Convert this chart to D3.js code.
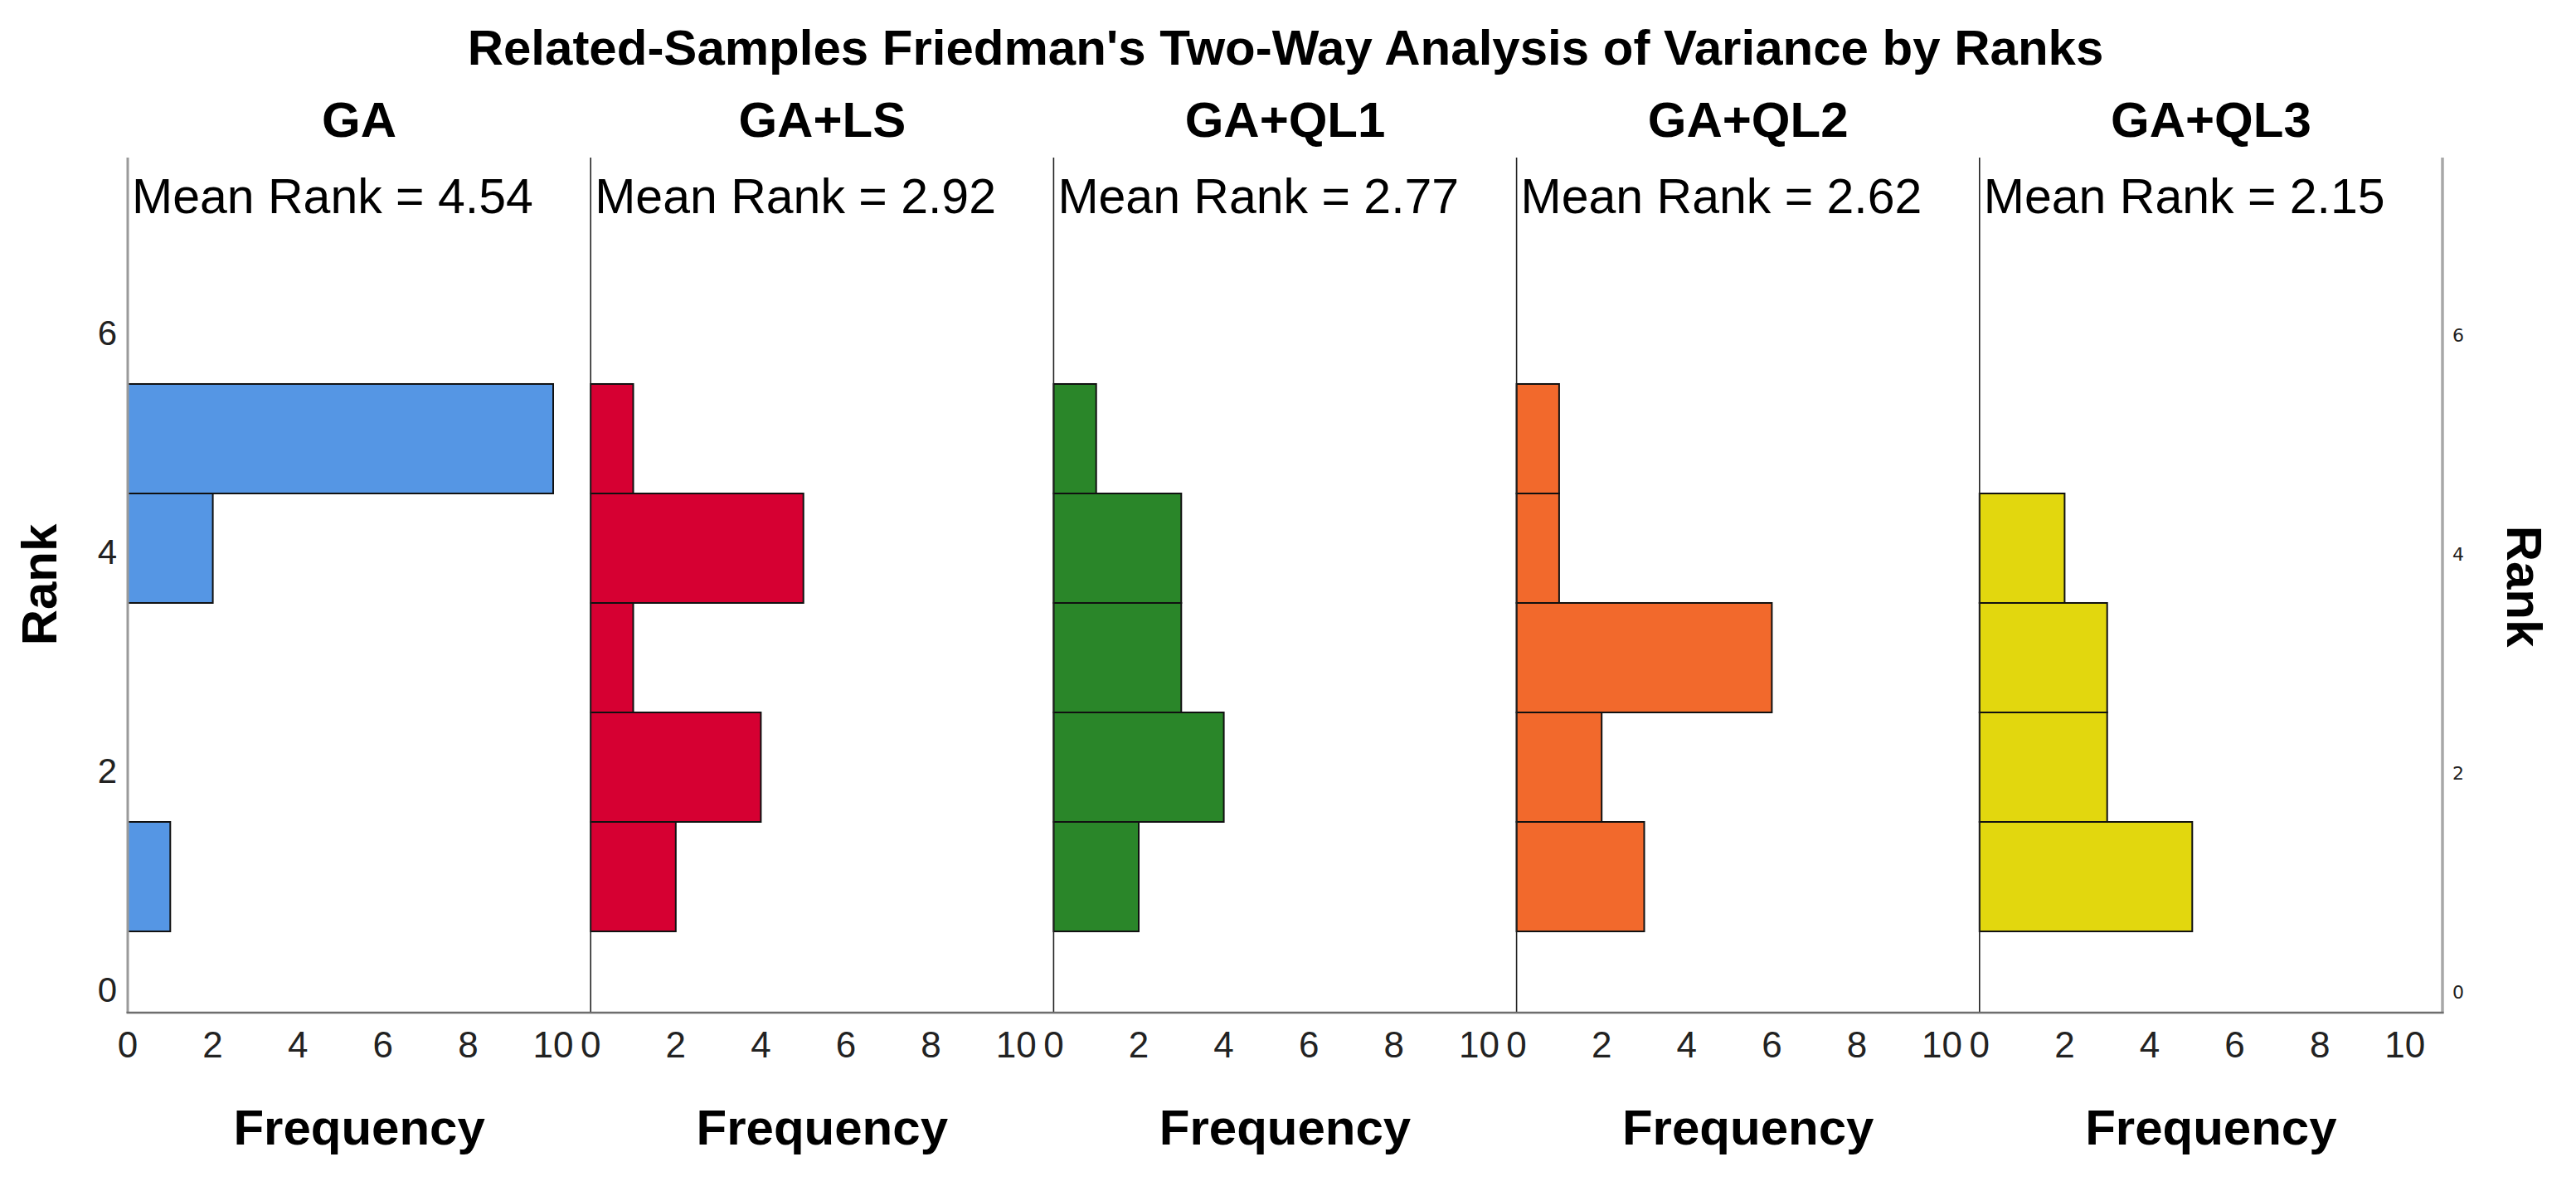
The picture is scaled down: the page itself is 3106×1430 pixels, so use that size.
<!DOCTYPE html>
<html>
<head>
<meta charset="utf-8">
<script src="https://cdn.jsdelivr.net/npm/d3@7"></script>
<style>
  html, body { margin: 0; padding: 0; background: #ffffff; }
  svg { display: block; }
  text { font-family: "Liberation Sans", Arial, Helvetica, sans-serif; }
</style>
</head>
<body>
<svg id="chart" width="3106" height="1430"></svg>
<script>
// ---- data ----
const title = "Related-Samples Friedman's Two-Way Analysis of Variance by Ranks";
const groups = ["GA", "GA+LS", "GA+QL1", "GA+QL2", "GA+QL3"];
const meanRanks = ["4.54", "2.92", "2.77", "2.62", "2.15"];
const colors = ["#5596E4", "#D60032", "#2A8629", "#F2692C", "#E2D70E"];
const ranks = [1, 2, 3, 4, 5];
// frequencies by rank 1..5 for each group
const freqGA    = [1, 0, 0, 2, 10];
const freqGALS  = [2, 4, 1, 5, 1];
const freqGAQL1 = [2, 4, 3, 3, 1];
const freqGAQL2 = [3, 2, 6, 1, 1];
const freqGAQL3 = [5, 3, 3, 2, 0];
const freqs = [freqGA, freqGALS, freqGAQL1, freqGAQL2, freqGAQL3];
const xTicks = [0, 2, 4, 6, 8, 10];
const yTicks = [0, 2, 4, 6];

// ---- layout ----
const svg = d3.select("#chart");
const plotLeft = 154, plotRight = 2945, plotTop = 190, plotBottom = 1221;
const panelW = (plotRight - plotLeft) / groups.length;
const y = d3.scaleLinear().domain([-0.2424, 7.568]).range([plotBottom, plotTop]);
const panelX = d3.scaleBand().domain(groups).range([plotLeft, plotRight]).padding(0);

// title
svg.append("text")
  .attr("x", 1550).attr("y", 78)
  .attr("text-anchor", "middle")
  .attr("font-size", 60).attr("font-weight", "bold")
  .text(title);

groups.forEach((g, i) => {
  const x0 = panelX(g);
  const x = d3.scaleLinear().domain([0, panelW / 51.3]).range([x0, x0 + panelW]);
  const gp = svg.append("g");

  // bars
  const data = ranks.map((r, k) => ({ rank: r, f: freqs[i][k] })).filter(d => d.f > 0);
  gp.selectAll("rect.bar").data(data).enter().append("rect")
    .attr("class", "bar")
    .attr("x", x(0))
    .attr("y", d => y(d.rank + 0.5))
    .attr("width", d => x(d.f) - x(0))
    .attr("height", d => y(d.rank - 0.5) - y(d.rank + 0.5))
    .attr("fill", colors[i])
    .attr("stroke", "#111")
    .attr("stroke-width", 2);

  // panel title
  gp.append("text")
    .attr("x", x0 + panelW / 2).attr("y", 165)
    .attr("text-anchor", "middle")
    .attr("font-size", 60).attr("font-weight", "bold")
    .text(g);

  // mean rank
  gp.append("text")
    .attr("x", x0 + 5).attr("y", 257)
    .attr("font-size", 59)
    .text("Mean Rank = " + meanRanks[i]);

  // x tick labels
  gp.selectAll("text.xt").data(xTicks).enter().append("text")
    .attr("class", "xt")
    .attr("x", d => x(d))
    .attr("y", 1275)
    .attr("text-anchor", "middle")
    .attr("font-size", 44)
    .attr("fill", "#222")
    .text(d => d);

  // x axis title
  gp.append("text")
    .attr("x", x0 + panelW / 2).attr("y", 1380)
    .attr("text-anchor", "middle")
    .attr("font-size", 60).attr("font-weight", "bold")
    .text("Frequency");

  // separator line (panels after the first)
  if (i > 0) {
    gp.append("line")
      .attr("x1", x0).attr("x2", x0)
      .attr("y1", plotTop).attr("y2", plotBottom)
      .attr("stroke", "#222").attr("stroke-width", 1.6);
  }
});

// left axis line
svg.append("line")
  .attr("x1", plotLeft).attr("x2", plotLeft)
  .attr("y1", plotTop).attr("y2", plotBottom)
  .attr("stroke", "#9a9a9a").attr("stroke-width", 3);
// right axis line
svg.append("line")
  .attr("x1", plotRight).attr("x2", plotRight)
  .attr("y1", plotTop).attr("y2", plotBottom + 1)
  .attr("stroke", "#a8a8a8").attr("stroke-width", 3.5);
// bottom axis line
svg.append("line")
  .attr("x1", plotLeft - 1.5).attr("x2", plotRight + 1.5)
  .attr("y1", plotBottom).attr("y2", plotBottom)
  .attr("stroke", "#6e6e6e").attr("stroke-width", 2.5);

// left y tick labels
svg.selectAll("text.yl").data(yTicks).enter().append("text")
  .attr("class", "yl")
  .attr("x", 141)
  .attr("y", d => y(d) + 19)
  .attr("text-anchor", "end")
  .attr("font-size", 42)
  .attr("fill", "#222")
  .text(d => d);

// right y tick labels
svg.selectAll("text.yr").data(yTicks).enter().append("text")
  .attr("class", "yr")
  .attr("x", 2957)
  .attr("y", d => y(d) + 15)
  .attr("font-size", 22)
  .style("font-family", "'DejaVu Sans', Verdana, sans-serif")
  .attr("fill", "#222")
  .text(d => d);

// left Rank title
svg.append("text")
  .attr("transform", "translate(68,705) rotate(-90)")
  .attr("text-anchor", "middle")
  .attr("font-size", 60).attr("font-weight", "bold")
  .text("Rank");

// right Rank title
svg.append("text")
  .attr("transform", "translate(3023,707) rotate(90)")
  .attr("text-anchor", "middle")
  .attr("font-size", 60).attr("font-weight", "bold")
  .text("Rank");
</script>
</body>
</html>
